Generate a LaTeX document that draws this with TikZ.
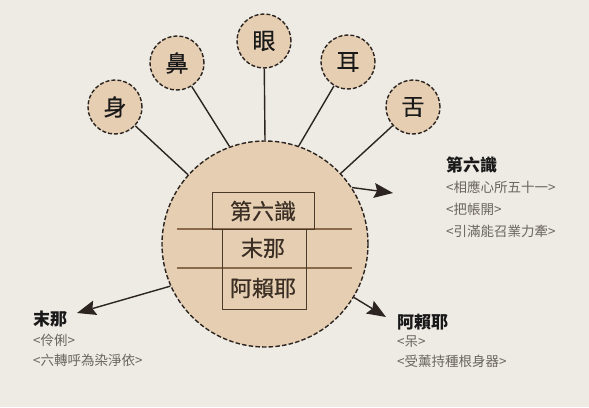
\documentclass[tikz,border=0pt]{standalone}
\usepackage{fontspec}
\usetikzlibrary{arrows.meta}
\newfontfamily\cjk{Noto Sans CJK TC}
\newfontfamily\cjkm[FakeBold=0.5]{Noto Sans CJK TC}
\definecolor{bg}{HTML}{EEEAE4}
\definecolor{tanfill}{HTML}{E6CEB2}
\definecolor{linec}{HTML}{2B2420}
\definecolor{boxc}{HTML}{4A3A2A}
\definecolor{hlc}{HTML}{8A6A4A}
\definecolor{innertxt}{HTML}{3B2F25}
\definecolor{subtxt}{HTML}{6B6560}
\begin{document}
\begin{tikzpicture}[x=1pt,y=-1pt,
  sense/.style={circle, draw=linec, dash pattern=on 4pt off 2pt, line width=1.4pt,
    fill=tanfill, minimum size=54pt, inner sep=0pt, text=black!90,
    font=\cjkm\fontsize{23}{23}\selectfont},
  bigc/.style={circle, draw=linec, dash pattern=on 4.5pt off 2.2pt, line width=1.4pt,
    fill=tanfill, minimum size=206pt, inner sep=0pt},
  conn/.style={draw=linec, line width=1.4pt},
  arr/.style={draw=linec, line width=1.4pt, -{Stealth[length=19pt,width=15pt,inset=3pt,line width=0pt]}},
  boxline/.style={draw=boxc, line width=1pt},
  hline/.style={draw=hlc, line width=1.6pt},
  inner/.style={inner sep=0pt, text=innertxt, font=\cjkm\fontsize{22}{22}\selectfont},
  head/.style={inner sep=0pt, anchor=west, text=black!90, font=\cjk\bfseries\fontsize{17}{17}\selectfont},
  sub/.style={inner sep=0pt, anchor=west, text=subtxt, font=\cjk\fontsize{13.5}{13.5}\selectfont}
]
\fill[bg] (0,0) rectangle (589,407);
\useasboundingbox (0,0) rectangle (589,407);

% big circle
\node[bigc] (big) at (265,244) {};

% small circles
\node[sense] (shen) at (115,107) {身};
\node[sense] (bi)   at (177,63)  {鼻};
\node[sense] (yan)  at (264,41)  {眼};
\node[sense] (er)   at (348,62)  {耳};
\node[sense] (she)  at (413,107) {舌};

\draw[conn] (shen) -- (big.138.5);
\draw[conn] (bi) -- (big.110);
\draw[conn] (yan) -- (big.90);
\draw[conn] (er) -- (big.71);
\draw[conn] (she) -- (big.43);

% inner structure
\draw[hline] (177,229) -- (352,229);
\draw[hline] (177,268) -- (352,268);
\draw[boxline] (212,192) rectangle (314,229);
\draw[boxline] (222,229) rectangle (306,309);
\node[inner] (t1) at (263,211) {第六識};
\node[inner] (t2) at (263,248) {末那};
\node[inner] (t3) at (263,288) {阿賴耶};

% arrows
\coordinate (a1) at (393,193);
\coordinate (a2) at (386,317);
\coordinate (a3) at (77,313);
\draw[arr] (big.33) -- (a1);
\draw[arr] (big.-31.5) -- (a2);
\draw[arr] (big.204) -- (a3);

% labels
\node[head] (h1) at (446,165) {第六識};
\node[sub] (s11) at (446,187) {<相應心所五十一>};
\node[sub] (s12) at (446,209) {<把帳開>};
\node[sub] (s13) at (446,231) {<引滿能召業力牽>};

\node[head] (h2) at (33,319) {末那};
\node[sub] (s21) at (33,340) {<伶俐>};
\node[sub] (s22) at (33,360) {<六轉呼為染淨依>};

\node[head] (h3) at (397,322) {阿賴耶};
\node[sub] (s31) at (397,342) {<呆>};
\node[sub] (s32) at (397,361) {<受薰持種根身器>};
\end{tikzpicture}
\end{document}
